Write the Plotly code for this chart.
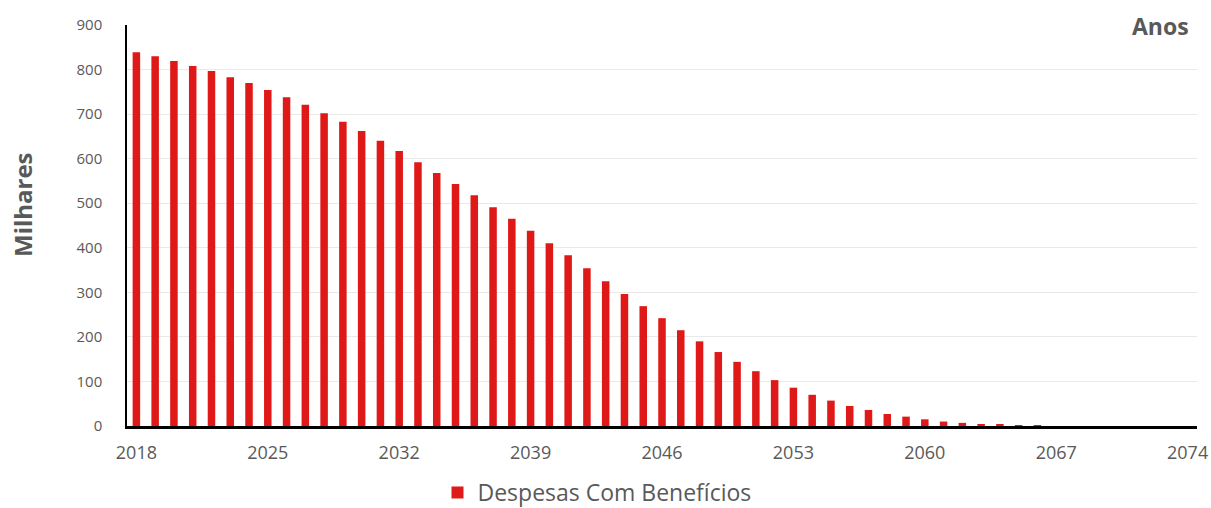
import plotly.graph_objects as go

years = list(range(2018, 2075))
despesas = [839, 830, 819, 808, 797, 783, 770, 754, 738, 721,
            702, 683, 662, 640, 617, 592, 568, 543, 518, 491,
            465, 438, 410, 383, 354, 325, 296, 269, 242, 215,
            190, 166, 144, 123, 103, 86, 70, 57, 45, 36,
            27, 21, 15, 10, 7, 4, 2.5, 1, 0.5, 0,
            0, 0, 0, 0, 0, 0, 0]
xticks = [2018, 2025, 2032, 2039, 2046, 2053, 2060, 2067, 2074]
yticks = [0, 100, 200, 300, 400, 500, 600, 700, 800, 900]

font_family = "Open Sans, Liberation Sans, sans-serif"
grey = "#595959"

W, H = 1211, 508
ML, MR, MT, MB = 127, 14, 25, 82
pw = W - ML - MR
ph = H - MT - MB


def px_x(x):
    return (x - ML) / pw


def px_y(y):
    return (H - MB - y) / ph


fig = go.Figure()
fig.add_trace(go.Bar(
    x=years, y=despesas, name="Despesas Com Benefícios",
    marker=dict(color="#DF1917", line=dict(width=0)),
    width=0.4,
))

fig.update_layout(
    width=W, height=H,
    margin=dict(l=ML, r=MR, t=MT, b=MB, autoexpand=False),
    plot_bgcolor="white", paper_bgcolor="white",
    font=dict(family=font_family, color=grey),
    showlegend=True,
    legend=dict(orientation="h", x=px_x(597), xanchor="center",
                y=px_y(514), yanchor="bottom",
                font=dict(size=23, color=grey), itemwidth=30,
                bgcolor="rgba(0,0,0,0)"),
    xaxis=dict(
        range=[2017.5, 2074.5],
        tickmode="array", tickvals=xticks, ticktext=[str(t) for t in xticks],
        tickfont=dict(size=18, color=grey),
        showgrid=False, showline=True, linecolor="black", linewidth=3,
        ticks="", zeroline=False, ticklabelstandoff=8,
    ),
    yaxis=dict(
        range=[0, 900],
        tickmode="array", tickvals=yticks,
        tickfont=dict(size=15, color=grey),
        showgrid=True, gridcolor="#E9E9E9", gridwidth=1,
        showline=True, linecolor="black", linewidth=1.5,
        zeroline=False, ticks="", ticklabelstandoff=20,
    ),
    annotations=[
        dict(text="<b>Milhares</b>", x=px_x(22), y=px_y(205),
             xref="paper", yref="paper", xanchor="center", yanchor="middle",
             showarrow=False, textangle=-90, font=dict(size=24, color=grey)),
        dict(text="<b>Anos</b>", x=px_x(1191), y=px_y(26),
             xref="paper", yref="paper", xanchor="right", yanchor="middle",
             showarrow=False, font=dict(size=23, color=grey)),
    ],
)

fig.write_html(
    "out.html",
    config={"displayModeBar": False},
    post_script="document.body.style.margin='0px';document.body.style.overflow='hidden';",
)
